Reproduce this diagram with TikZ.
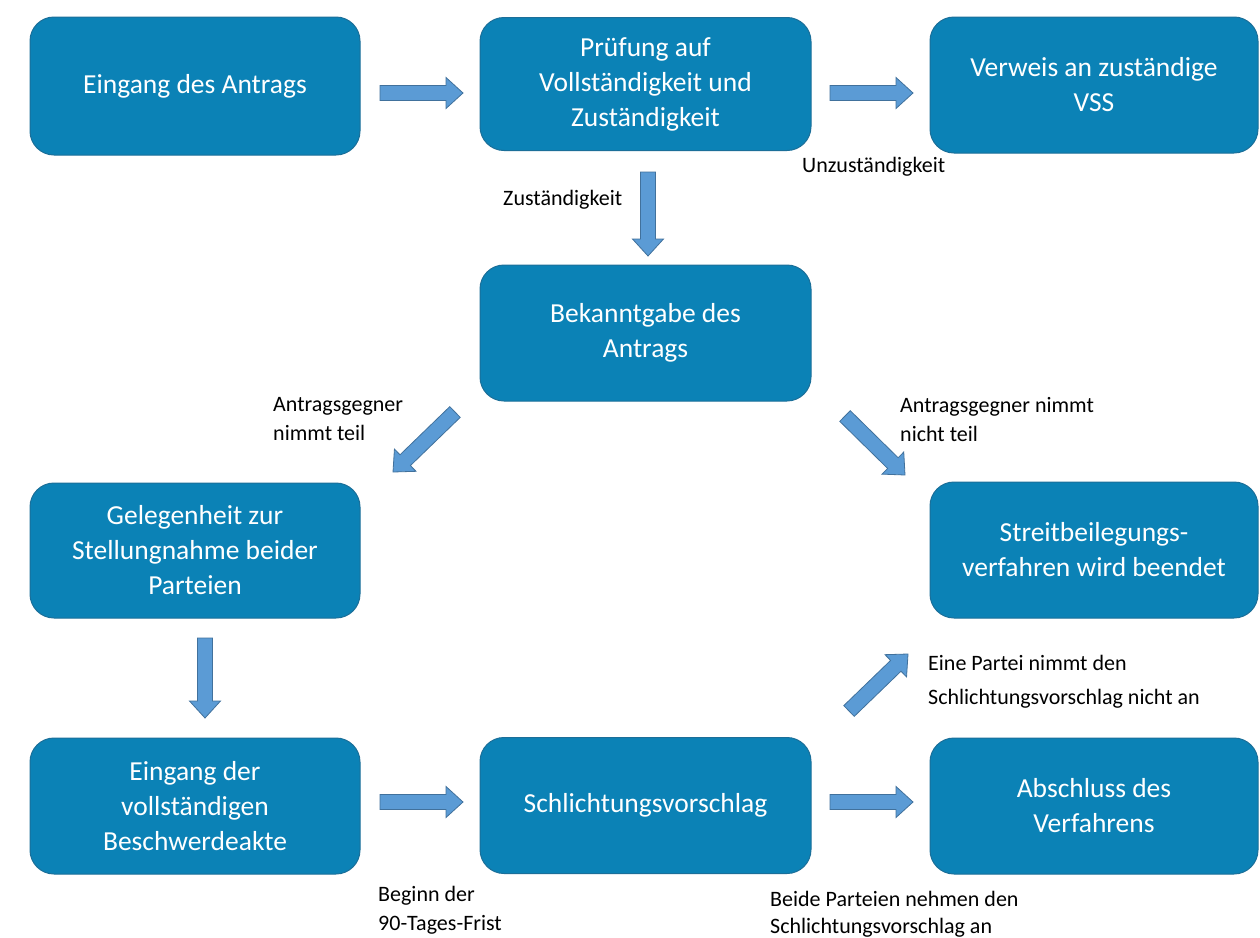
\documentclass[tikz,border=0pt]{standalone}
\usepackage{fontspec}
\setmainfont{Carlito}
\usetikzlibrary{calc}
\definecolor{boxfill}{HTML}{0B82B6}
\definecolor{boxline}{HTML}{1B6F99}
\definecolor{arrfill}{HTML}{5B9BD5}
\definecolor{arrline}{HTML}{41719C}
\tikzset{
  flowbox/.style={draw=boxline, line width=1pt, fill=boxfill, rounded corners=24pt,
    text=white, align=center, font=\fontsize{27.5}{35}\selectfont, inner sep=0pt,
    minimum height=136pt},
  lbl/.style={align=left, anchor=north west, inner sep=0pt, text=black,
    font=\fontsize{22}{29}\selectfont},
  blockarr/.style={draw=arrline, fill=arrfill, line width=0.8pt, line join=miter}
}
\newcommand{\blockarrow}[2]{%
  \coordinate (h) at ($(#2)!17pt!(#1)$);
  \path[blockarr] ($(#1)!7.5pt!90:(#2)$) -- ($(h)!7.5pt!-90:(#1)$) -- ($(h)!15.5pt!-90:(#1)$) -- (#2)
    -- ($(h)!15.5pt!90:(#1)$) -- ($(h)!7.5pt!90:(#1)$) -- ($(#1)!7.5pt!-90:(#2)$) -- cycle;
}
\begin{document}
\begin{tikzpicture}[x=1pt,y=-1pt]
\useasboundingbox[fill=white] (0,0) rectangle (1260,937);
% boxes
\node[flowbox, minimum width=330pt, minimum height=138pt] (b1) at (195,86) {Eingang des Antrags};
\node[flowbox, minimum width=331pt, minimum height=133pt] (b2) at (645.5,84) {Prüfung auf\\Vollständigkeit und\\Zuständigkeit};
\node[flowbox, minimum width=328pt] (b3) at (1094,85) {Verweis an zuständige\\VSS};
\node[flowbox, minimum width=331pt] (b4) at (645.5,333) {Bekanntgabe des\\Antrags};
\node[flowbox, minimum width=330pt, minimum height=135pt] (b5) at (195,550.5) {Gelegenheit zur\\Stellungnahme beider\\Parteien};
\node[flowbox, minimum width=328pt] (b6) at (1094,550) {Streitbeilegungs-\\verfahren wird beendet};
\node[flowbox, minimum width=330pt] (b7) at (195,806) {Eingang der\\vollständigen\\Beschwerdeakte};
\node[flowbox, minimum width=331pt] (b8) at (645.5,805.5) {Schlichtungsvorschlag};
\node[flowbox, minimum width=328pt] (b9) at (1094,806) {Abschluss des\\Verfahrens};
% arrow endpoints
\coordinate (a1s) at (380,93);  \coordinate (a1e) at (463,93);
\coordinate (a2s) at (830,93);  \coordinate (a2e) at (913,93);
\coordinate (a3s) at (648,172); \coordinate (a3e) at (648,256);
\coordinate (a4s) at (455,412); \coordinate (a4e) at (393,472);
\coordinate (a5s) at (845,416); \coordinate (a5e) at (905,475);
\coordinate (a6s) at (205,638); \coordinate (a6e) at (205,718);
\coordinate (a7s) at (380,802); \coordinate (a7e) at (463,802);
\coordinate (a8s) at (830,802); \coordinate (a8e) at (913,802);
\coordinate (a9s) at (849,711); \coordinate (a9e) at (908,654);
\blockarrow{a1s}{a1e}
\blockarrow{a2s}{a2e}
\blockarrow{a3s}{a3e}
\blockarrow{a4s}{a4e}
\blockarrow{a5s}{a5e}
\blockarrow{a6s}{a6e}
\blockarrow{a7s}{a7e}
\blockarrow{a8s}{a8e}
\blockarrow{a9s}{a9e}
% labels
\node[lbl] (l1) at (802,157) {Unzuständigkeit};
\node[lbl] (l2) at (503,190) {Zuständigkeit};
\node[lbl] (l3) at (273,397) {Antragsgegner\\nimmt teil};
\node[lbl] (l4) at (900,397) {Antragsgegner nimmt\\nicht teil};
\node[lbl, font=\fontsize{22}{34}\selectfont] (l5) at (928,655) {Eine Partei nimmt den\\Schlichtungsvorschlag nicht an};
\node[lbl] (l6) at (378,886) {Beginn der\\90-Tages-Frist};
\node[lbl, font=\fontsize{22}{27}\selectfont] (l7) at (770,891) {Beide Parteien nehmen den\\Schlichtungsvorschlag an};
\end{tikzpicture}
\end{document}
